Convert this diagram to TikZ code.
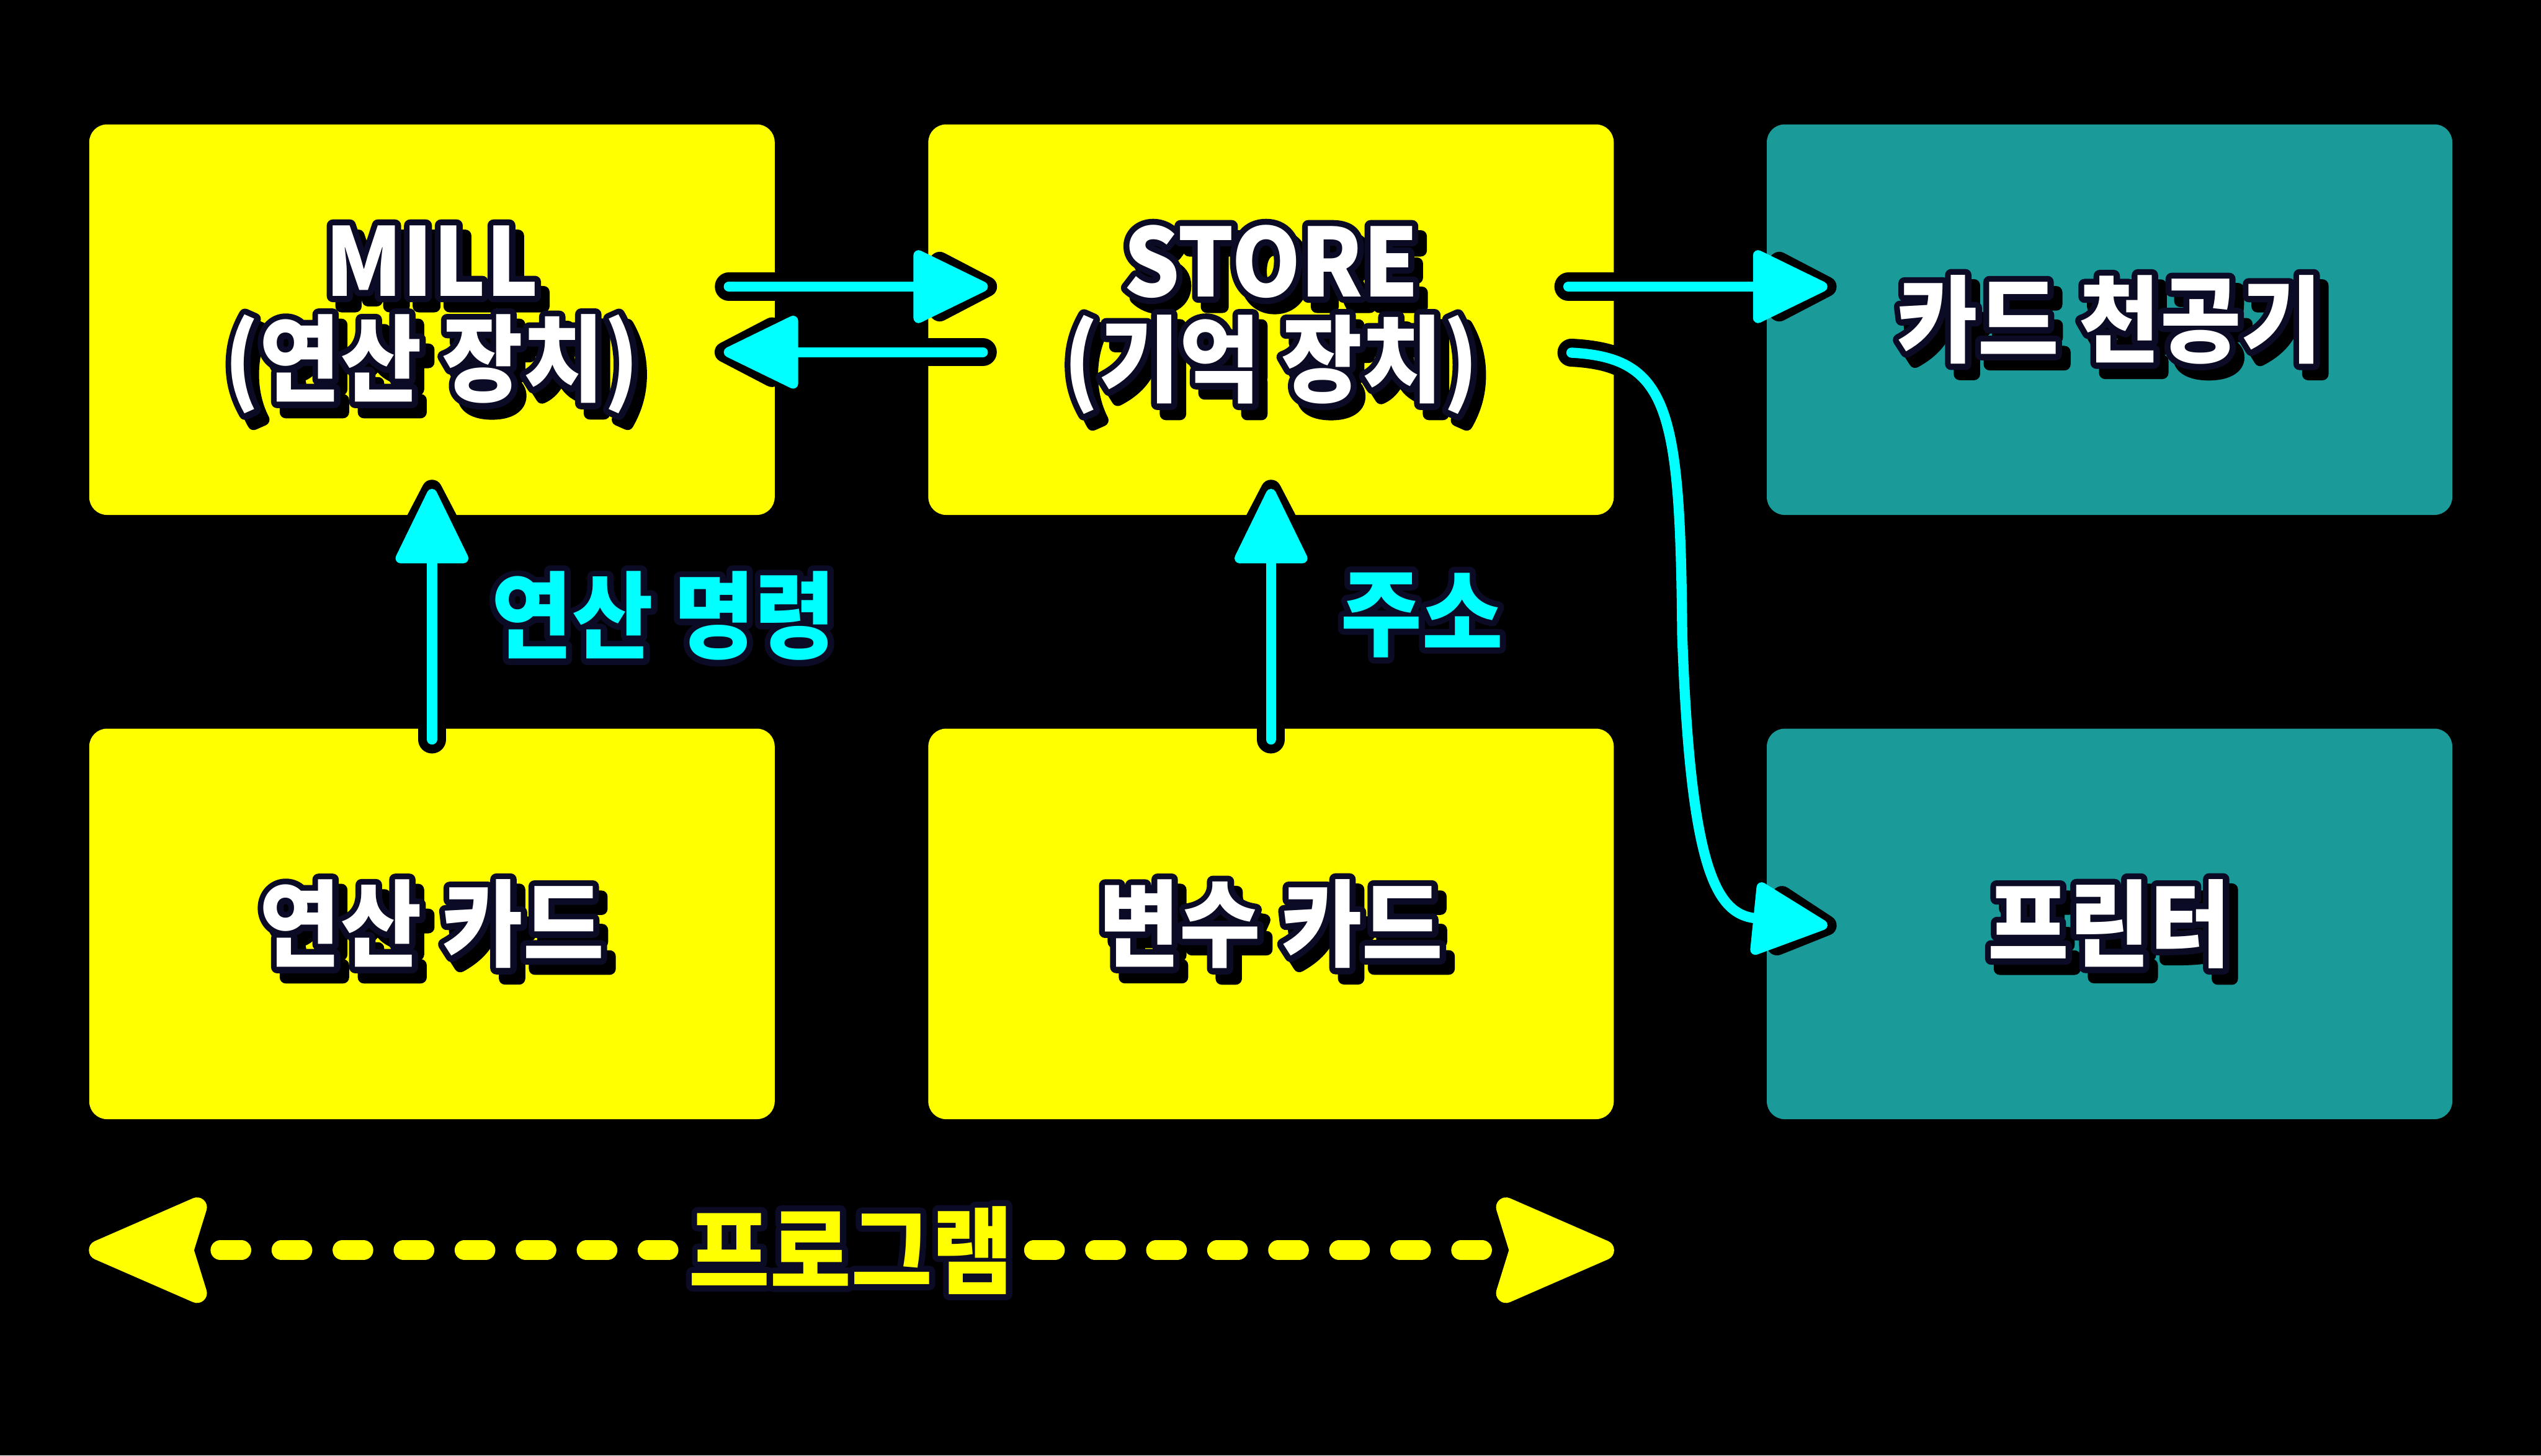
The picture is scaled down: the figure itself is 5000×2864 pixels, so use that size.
\documentclass[tikz,border=0pt]{standalone}
\usepackage{fontspec}
\setmainfont{Noto Sans CJK KR Black}[FakeStretch=0.93]
\usetikzlibrary{calc,arrows.meta}

\definecolor{boxyellow}{HTML}{FFFF00}
\definecolor{boxteal}{HTML}{1B9A9A}
\definecolor{flowcyan}{HTML}{00FFFF}
\definecolor{rimnavy}{HTML}{0B0B26}

% stroked copy of a text (outline / shadow)
\newcommand\rimpaint[1]{%
  \special{pdf:literal direct 2 Tr 6.8 w 1 j}#1\special{pdf:literal direct 0 Tr}}
\newcommand\boxlabel[1]{\leavevmode
  \rlap{\kern0.17cm\smash{\raisebox{-0.2cm}{\color{black}\rimpaint{#1}}}}%
  \rlap{\color{rimnavy}\rimpaint{#1}}#1}
\newcommand\flowlabel[1]{\leavevmode
  \rlap{\color{rimnavy}\rimpaint{#1}}#1}

\begin{document}
\begin{tikzpicture}[
    x=0.01cm,
    y=-0.01cm,
    unit/.style={rectangle, rounded corners=0.35cm, fill=boxyellow,
        minimum width=13.48cm, minimum height=7.68cm, align=center,
        text=white, font=\fontsize{53}{55}\selectfont},
    device/.style={unit, fill=boxteal},
    note/.style={inner sep=0pt, text=flowcyan, font=\fontsize{53}{55}\selectfont},
    flow/.style={draw=flowcyan, line width=0.2cm, line cap=round,
        shorten >=0.18cm, -{Triangle[round, length=1.6cm, width=1.5cm]},
        preaction={draw=black, line width=0.55cm, line cap=round,
            shorten >=0cm, -{Triangle[round, length=1.6cm, width=1.5cm]}}},
    span/.style={draw=boxyellow, line width=0.39cm, line cap=round,
        dash pattern=on 0.41cm off 0.79cm, dash phase=0.8cm,
        -{Stealth[round, length=2.7cm, width=2.3cm, inset=0.33cm]}}
]

% -------------------------------------------------------------------------
% Page
% -------------------------------------------------------------------------
\fill[black] (0,0) rectangle (5000,2864);
\useasboundingbox (0,0) rectangle (5000,2864);

% -------------------------------------------------------------------------
% Rows and columns
% -------------------------------------------------------------------------
\def\colA{850}
\def\colB{2501}
\def\colC{4151}
\def\rowA{629}
\def\rowB{1818}

% -------------------------------------------------------------------------
% Units
% -------------------------------------------------------------------------
\node[ unit ] (mill) at (\colA,\rowA) {\boxlabel{MILL}\\\boxlabel{(연산 장치)}};
\node[ unit ] (store) at (\colB,\rowA) {\boxlabel{STORE}\\\boxlabel{(기억 장치)}};
\node[ device ] (punch) at (\colC,\rowA) {\boxlabel{카드 천공기}};

\node[ unit ] (opcard) at (\colA,\rowB) {\boxlabel{연산 카드}};
\node[ unit ] (varcard) at (\colB,\rowB) {\boxlabel{변수 카드}};
\node[ device ] (printer) at (\colC,\rowB) {\boxlabel{프린터}};

% -------------------------------------------------------------------------
% Mill <-> store
% -------------------------------------------------------------------------
\draw[ flow ] ($(mill.east)+(-91,-65)$) -- ($(store.west)+(136,-65)$);
\draw[ flow ] ($(store.west)+(108,64)$) -- ($(mill.east)+(-119,64)$);

% -------------------------------------------------------------------------
% Cards up
% -------------------------------------------------------------------------
\draw[ flow ] ($(opcard.north)+(0,22)$) -- ($(mill.south)+(0,-70)$);
\draw[ flow ] ($(varcard.north)+(0,22)$) -- ($(store.south)+(0,-70)$);

\node[ note ] (opcmd) at (1306,1212) {\flowlabel{연산 명령}};
\node[ note ] (addr) at (2798,1210) {\flowlabel{주소}};

% -------------------------------------------------------------------------
% Store out
% -------------------------------------------------------------------------
\draw[ flow ] ($(store.east)+(-90,-65)$) -- ($(punch.west)+(138,-65)$);
\draw[ flow ] ($(store.east)+(-84,65)$)
    .. controls ($(store.east)+(110,75)$) and ($(store.east)+(130,180)$)
    .. ($(store.east)+(134,620)$)
    .. controls ($(store.east)+(150,1080)$) and ($(store.east)+(200,1170)$)
    .. ($(printer.west)+(138,5)$);

% -------------------------------------------------------------------------
% Program span
% -------------------------------------------------------------------------
\node[ note, text=boxyellow ] (prog) at (1675,2460) {\flowlabel{프로그램}};
\coordinate (prog-l) at (mill.west |- prog.west);
\coordinate (prog-r) at (store.east |- prog.east);

\draw[ span ] (prog.west) -- (prog-l);
\draw[ span ] (prog.east) -- (prog-r);

\end{tikzpicture}
\end{document}
